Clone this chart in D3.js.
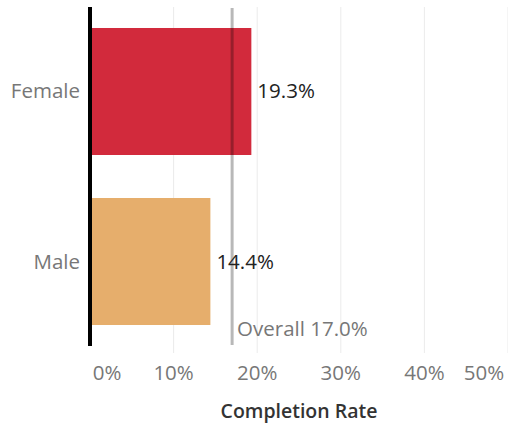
<!DOCTYPE html>
<html><head><meta charset="utf-8">
<script src="https://cdn.jsdelivr.net/npm/d3@7"></script>
<style>body{margin:0;background:#fff}svg{display:block}text{font-family:"Open Sans",sans-serif}</style>
</head><body><svg width="508" height="426"></svg>
<script>
const categories = ["Female", "Male"];
const values = [19.3, 14.4];
const colors = ["#d22a3c", "#e6ae6c"];
const overall = 17.0;
const ticks = [0, 10, 20, 30, 40, 50];

const svg = d3.select("svg");
const x = d3.scaleLinear().domain([0, 50]).range([90, 508]);
const y = d3.scaleBand().domain(categories).range([7, 346]).paddingInner(0.253).paddingOuter(0.1235);
const fs = 20.5;

// gridlines
svg.append("g").selectAll("line").data(ticks.slice(1)).join("line")
  .attr("x1", d => x(d)).attr("x2", d => x(d)).attr("y1", 7).attr("y2", 353)
  .attr("stroke", "#ebebeb").attr("stroke-width", 1);

// bars
svg.append("g").selectAll("rect").data(categories).join("rect")
  .attr("x", x(0)).attr("y", d => y(d)).attr("height", y.bandwidth())
  .attr("width", (d, i) => x(values[i]) - x(0)).attr("fill", (d, i) => colors[i]);

// reference line
svg.append("line").attr("x1", x(overall)).attr("x2", x(overall)).attr("y1", 8).attr("y2", 345)
  .attr("stroke", "#000").attr("stroke-opacity", 0.28).attr("stroke-width", 3);
svg.append("text").attr("x", x(overall) + 5).attr("y", 336).attr("font-size", fs)
  .attr("fill", "#777").text("Overall " + overall.toFixed(1) + "%");

// zero axis
svg.append("line").attr("x1", x(0)).attr("x2", x(0)).attr("y1", 7).attr("y2", 346)
  .attr("stroke", "#000").attr("stroke-width", 4);

// value labels
svg.append("g").selectAll("text").data(categories).join("text")
  .attr("x", (d, i) => x(values[i]) + 6).attr("y", d => y(d) + y.bandwidth() / 2 + 7)
  .attr("font-size", fs).attr("fill", "#222").text((d, i) => values[i].toFixed(1) + "%");

// category labels
svg.append("g").selectAll("text").data(categories).join("text")
  .attr("x", 80).attr("y", d => y(d) + y.bandwidth() / 2 + 7).attr("text-anchor", "end")
  .attr("font-size", fs).attr("fill", "#777").text(d => d);

// x tick labels
svg.append("g").selectAll("text").data(ticks).join("text")
  .attr("x", d => d === 50 ? 484 : x(d) + (d === 0 ? 17 : 0)).attr("y", 380).attr("text-anchor", "middle")
  .attr("font-size", fs).attr("fill", "#777").text(d => d + "%");

svg.append("text").attr("x", 299).attr("y", 418).attr("text-anchor", "middle")
  .attr("font-size", 19.5).attr("font-weight", 600).attr("fill", "#333").text("Completion Rate");
</script></body></html>
